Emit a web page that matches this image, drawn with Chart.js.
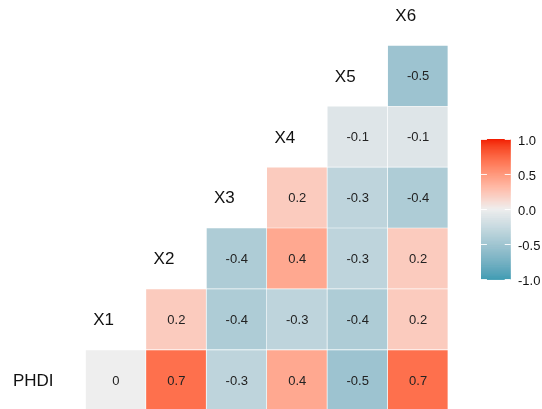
<!DOCTYPE html>
<html>
<head>
<meta charset="utf-8">
<script src="https://cdn.jsdelivr.net/npm/chart.js@4/dist/chart.umd.min.js"></script>
<style>
  html, body { margin: 0; padding: 0; background: #ffffff; }
  #wrap { width: 542px; height: 409px; position: relative; }
</style>
</head>
<body>
<div id="wrap"><canvas id="corr" width="542" height="409"></canvas></div>
<script>
// Variables, in the order they appear along the diagonal (bottom-left to top-right)
const variables = ['PHDI', 'X1', 'X2', 'X3', 'X4', 'X5', 'X6'];

// Correlations of each variable with every later variable
const corrPHDI = [0, 0.7, -0.3, 0.4, -0.5, 0.7];  // with X1..X6
const corrX1   = [0.2, -0.4, -0.3, -0.4, 0.2];    // with X2..X6
const corrX2   = [-0.4, 0.4, -0.3, 0.2];          // with X3..X6
const corrX3   = [0.2, -0.3, -0.4];               // with X4..X6
const corrX4   = [-0.1, -0.1];                    // with X5..X6
const corrX5   = [-0.5];                          // with X6
const corrRows = [corrPHDI, corrX1, corrX2, corrX3, corrX4, corrX5];

// Colour bar ticks
const legendTicks = [1.0, 0.5, 0.0, -0.5, -1.0];
const legendTickLabels = ['1.0', '0.5', '0.0', '-0.5', '-1.0'];

// ---- colour scale: low / mid / high, interpolated in CIE Lab ----
const LOW = '#3B9AB2', MID = '#EEEEEE', HIGH = '#F21A00';

function hexToRgb(h) {
  return [parseInt(h.slice(1, 3), 16), parseInt(h.slice(3, 5), 16), parseInt(h.slice(5, 7), 16)];
}
function toLin(c) { c /= 255; return c <= 0.04045 ? c / 12.92 : Math.pow((c + 0.055) / 1.055, 2.4); }
function fromLin(c) {
  const v = c <= 0.0031308 ? 12.92 * c : 1.055 * Math.pow(c, 1 / 2.4) - 0.055;
  return Math.max(0, Math.min(255, Math.round(v * 255)));
}
const WX = 0.95047, WY = 1.0, WZ = 1.08883;
function fLab(t) { return t > 216 / 24389 ? Math.cbrt(t) : (24389 / 27 * t + 16) / 116; }
function fInv(t) { const t3 = t * t * t; return t3 > 216 / 24389 ? t3 : (116 * t - 16) / (24389 / 27); }
function rgbToLab(rgb) {
  const [r, g, b] = rgb.map(toLin);
  const X = 0.4124564 * r + 0.3575761 * g + 0.1804375 * b;
  const Y = 0.2126729 * r + 0.7151522 * g + 0.0721750 * b;
  const Z = 0.0193339 * r + 0.1191920 * g + 0.9503041 * b;
  const fx = fLab(X / WX), fy = fLab(Y / WY), fz = fLab(Z / WZ);
  return [116 * fy - 16, 500 * (fx - fy), 200 * (fy - fz)];
}
function labToRgb(lab) {
  const fy = (lab[0] + 16) / 116, fx = fy + lab[1] / 500, fz = fy - lab[2] / 200;
  const X = fInv(fx) * WX, Y = fInv(fy) * WY, Z = fInv(fz) * WZ;
  const r = 3.2404542 * X - 1.5371385 * Y - 0.4985314 * Z;
  const g = -0.9692660 * X + 1.8760108 * Y + 0.0415560 * Z;
  const b = 0.0556434 * X - 0.2040259 * Y + 1.0572252 * Z;
  return [fromLin(r), fromLin(g), fromLin(b)];
}
const labLow = rgbToLab(hexToRgb(LOW)), labMid = rgbToLab(hexToRgb(MID)), labHigh = rgbToLab(hexToRgb(HIGH));
function corrColor(v) {
  const t = Math.min(1, Math.abs(v));
  const end = v >= 0 ? labHigh : labLow;
  const lab = labMid.map((m, i) => m + (end[i] - m) * t);
  const [r, g, b] = labToRgb(lab);
  return `rgb(${r},${g},${b})`;
}

// ---- tiles: one floating bar per pair (row variable r, column variable c) ----
const tiles = [];
corrRows.forEach((vals, r) => {
  vals.forEach((v, k) => {
    const c = r + 1 + k;
    tiles.push({ x: variables[c], y: [r, r + 1], v: v });
  });
});

const FONT = '"Liberation Sans", Arial, Helvetica, sans-serif';

// Cell values, diagonal names and the colour bar
const annotate = {
  id: 'annotate',
  afterDatasetsDraw(chart) {
    const ctx = chart.ctx;
    const xs = chart.scales.x, ys = chart.scales.y;
    const meta = chart.getDatasetMeta(0);
    ctx.save();
    // values inside cells
    ctx.font = '13px ' + FONT;
    ctx.fillStyle = '#222222';
    ctx.textAlign = 'center';
    ctx.textBaseline = 'middle';
    meta.data.forEach((bar, i) => {
      const raw = chart.data.datasets[0].data[i];
      const cx = bar.x;
      const cy = (bar.y + bar.base) / 2;
      ctx.fillText(String(raw.v), cx, cy + 1);
    });
    // variable names on the diagonal
    ctx.font = '17px ' + FONT;
    ctx.fillStyle = '#111111';
    ctx.textAlign = 'right';
    variables.forEach((name, j) => {
      const px = xs.getPixelForValue(j);
      const py = ys.getPixelForValue(j + 0.5);
      ctx.fillText(name, px - 2, py + 1.5);
    });
    ctx.restore();
  },
  afterDraw(chart) {
    const ctx = chart.ctx;
    const bx0 = 481, bx1 = 510.7, by0 = 139, by1 = 279.3;
    const toY = v => by1 - (v + 1) / 2 * (by1 - by0);
    ctx.save();
    // gradient strip
    const steps = 140;
    for (let s = 0; s < steps; s++) {
      const v0 = 1 - 2 * s / steps;
      const v1 = 1 - 2 * (s + 1) / steps;
      ctx.fillStyle = corrColor((v0 + v1) / 2);
      const y0 = toY(v0), y1 = toY(v1);
      ctx.fillRect(bx0, y0, bx1 - bx0, y1 - y0 + 0.6);
    }
    // tick marks
    ctx.strokeStyle = 'rgba(255,255,255,0.9)';
    ctx.lineWidth = 1;
    const tl = (bx1 - bx0) / 5;
    legendTicks.forEach(v => {
      const y = Math.round(toY(v)) + 0.5;
      ctx.beginPath();
      ctx.moveTo(bx0, y); ctx.lineTo(bx0 + tl, y);
      ctx.moveTo(bx1 - tl, y); ctx.lineTo(bx1, y);
      ctx.stroke();
    });
    // tick labels
    ctx.font = '13px ' + FONT;
    ctx.fillStyle = '#111111';
    ctx.textAlign = 'left';
    ctx.textBaseline = 'middle';
    legendTicks.forEach((v, i) => {
      ctx.fillText(legendTickLabels[i], 518, toY(v) + 2.5);
    });
    ctx.restore();
  }
};

new Chart(document.getElementById('corr'), {
  type: 'bar',
  data: {
    labels: variables,
    datasets: [{
      data: tiles,
      backgroundColor: ctx => corrColor(ctx.raw ? ctx.raw.v : 0),
      borderColor: '#ffffff',
      borderWidth: { top: 1, right: 1, left: 0, bottom: 0 },
      borderSkipped: false,
      categoryPercentage: 1,
      barPercentage: 1
    }]
  },
  options: {
    responsive: false,
    devicePixelRatio: 1,
    animation: false,
    layout: { padding: { left: 25.3, right: 93.7, top: 0, bottom: 0 } },
    plugins: { legend: { display: false }, tooltip: { enabled: false } },
    scales: {
      x: { type: 'category', display: false, grid: { display: false }, ticks: { autoSkip: false } },
      y: { type: 'linear', display: false, min: 0.023, max: 6.739, grid: { display: false } }
    }
  },
  plugins: [annotate]
});
</script>
</body>
</html>
